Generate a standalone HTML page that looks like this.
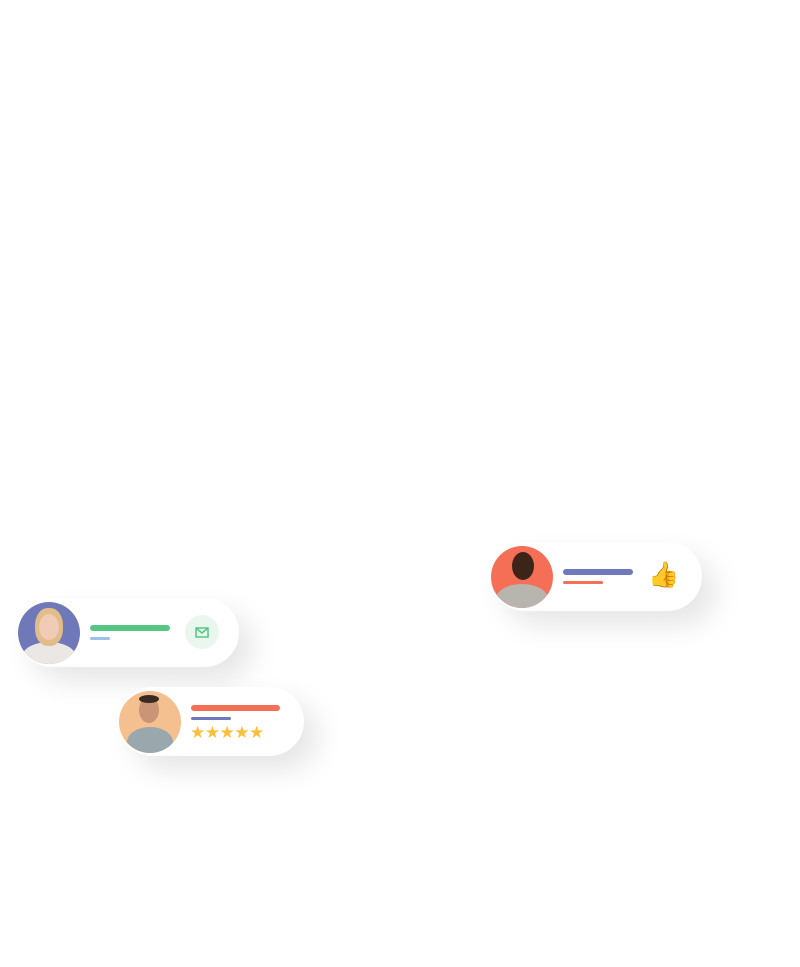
<!DOCTYPE html>
<html><head><style>
body{margin:0;width:800px;height:967px;background:#fff;position:relative;overflow:hidden;font-family:"Liberation Sans",sans-serif}
.card{position:absolute;background:#fff;border-radius:36px;box-shadow:14px 14px 28px rgba(0,0,0,0.10)}
.av{position:absolute;border-radius:50%;overflow:hidden;width:62px;height:62px}
.bar{position:absolute;border-radius:3px}
.head{position:absolute;border-radius:50%}
.body{position:absolute;border-radius:50% 50% 0 0}
</style></head><body>

<div class="card" style="left:17px;top:598px;width:222px;height:69px"></div>
<div class="av" style="left:18px;top:602px;background:#6f78b8">
  <div class="body" style="left:4px;top:40px;width:54px;height:30px;background:#eae7e4"></div>
  <div class="head" style="left:17px;top:6px;width:28px;height:38px;background:#e2bd8a;border-radius:45%"></div>
  <div class="head" style="left:21px;top:12px;width:20px;height:26px;background:#f0cbb5"></div>
</div>
<div class="bar" style="left:90px;top:625px;width:80px;height:6px;background:#55c684"></div>
<div class="bar" style="left:90px;top:637px;width:20px;height:3px;background:#9cc0ea"></div>
<div style="position:absolute;left:185px;top:615px;width:34px;height:34px;border-radius:50%;background:#eaf7ef"></div>
<svg style="position:absolute;left:195px;top:627px" width="14" height="11"><rect x="1" y="1" width="12" height="9" fill="none" stroke="#55c684" stroke-width="1.5"/><path d="M1 1 L7 6 L13 1" fill="none" stroke="#55c684" stroke-width="1.5"/></svg>

<div class="card" style="left:118px;top:687px;width:186px;height:69px"></div>
<div class="av" style="left:119px;top:691px;background:#f5c08f">
  <div class="body" style="left:8px;top:36px;width:46px;height:30px;background:#9aa8ad"></div>
  <div class="head" style="left:20px;top:6px;width:20px;height:26px;background:#c99576"></div>
  <div class="head" style="left:20px;top:4px;width:20px;height:8px;background:#3a2a22"></div>
</div>
<div class="bar" style="left:191px;top:705px;width:89px;height:6px;background:#f56e56"></div>
<div class="bar" style="left:191px;top:717px;width:40px;height:3px;background:#6f78b8"></div>
<div style="position:absolute;left:190px;top:723px;font-size:17px;letter-spacing:-0.5px;color:#fbbf3a;line-height:20px">★★★★★</div>

<div class="card" style="left:490px;top:542px;width:212px;height:69px"></div>
<div class="av" style="left:491px;top:546px;background:#f56e56">
  <div class="body" style="left:5px;top:38px;width:52px;height:30px;background:#b8b4ae"></div>
  <div class="head" style="left:21px;top:6px;width:22px;height:28px;background:#3d2418"></div>
</div>
<div class="bar" style="left:563px;top:569px;width:70px;height:6px;background:#6f78b8"></div>
<div class="bar" style="left:563px;top:581px;width:40px;height:3px;background:#f56e56"></div>
<div style="position:absolute;left:648px;top:560px;font-size:25px;line-height:30px;color:#f5b72f">👍</div>

</body></html>
